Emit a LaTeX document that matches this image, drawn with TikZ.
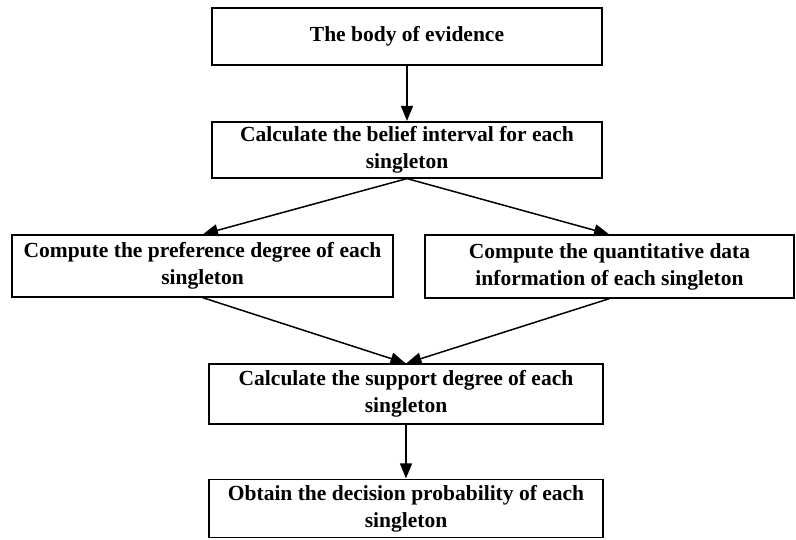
\documentclass[tikz,border=0pt]{standalone}
\usepackage{fontspec}
\setmainfont{Liberation Serif}
\usetikzlibrary{arrows.meta,positioning}

\begin{document}
\begin{tikzpicture}[x=1pt,y=1pt,font=\bfseries\fontsize{21.5}{27}\selectfont,
  >={Triangle[length=15pt,width=12pt]},
  box/.style={draw,line width=1.2pt,align=center,inner sep=2pt},
  link/.style={->,line width=1.5pt,shorten >=0.5pt}]
\useasboundingbox (0,0) rectangle (796,539);
\node[box,minimum width=390pt,minimum height=57pt] (body) at (407,502.5) {The body of evidence};
\node[box,minimum width=390pt,minimum height=56pt] (belief) at (407,389) {Calculate the belief interval for each\\singleton};
\node[box,minimum width=381pt,minimum height=62pt] (pref) at (202.5,273) {Compute the preference degree of each\\singleton};
\node[box,minimum width=369pt,minimum height=63pt] (quant) at (609.5,272.5) {Compute the quantitative data\\information of each singleton};
\node[box,minimum width=394pt,minimum height=60pt] (supp) at (406,145) {Calculate the support degree of each\\singleton};
\node[box,minimum width=394pt,minimum height=58pt] (dec) at (406,30.5) {Obtain the decision probability of each\\singleton};

\draw[link] (body) -- (belief);
\draw[link] (belief.south) -- (pref.north);
\draw[link] (belief.south) -- (quant.north);
\draw[link] (pref.south) -- (supp.north);
\draw[link] (quant.south) -- (supp.north);
\draw[link] (supp) -- (dec);
\end{tikzpicture}
\end{document}
